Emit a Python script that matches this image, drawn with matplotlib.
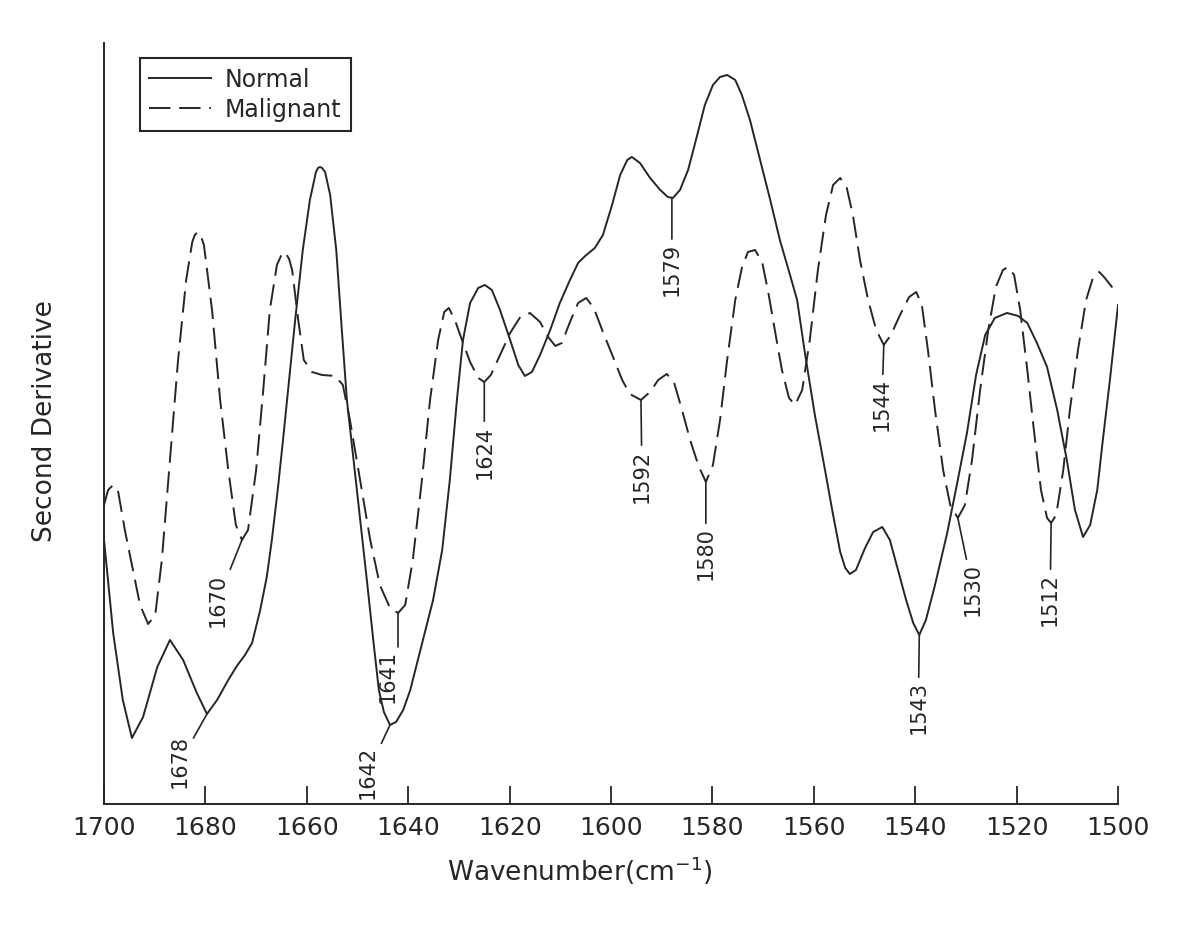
import matplotlib
matplotlib.use("Agg")
import matplotlib.pyplot as plt
import numpy as np

# second derivative spectra, wavenumber in cm-1, amplitude in arbitrary units
normal_wn = [1700.0, 1698.2, 1696.3, 1694.5, 1692.3, 1689.5, 1687.0, 1684.4, 1681.7, 1679.7,
             1677.7, 1675.5, 1673.8, 1672.2, 1670.8, 1669.2, 1667.9, 1666.9, 1665.7, 1664.7,
             1663.9, 1662.3, 1660.8, 1659.4, 1658.2, 1657.8, 1657.4, 1657.0, 1656.4, 1655.4,
             1654.2, 1653.1,
             1652.1, 1650.9, 1649.5, 1648.1, 1646.9, 1645.8, 1644.8, 1643.6, 1642.4, 1641.0,
             1639.6, 1637.1, 1635.1, 1633.3, 1631.8, 1630.4, 1629.2, 1627.8, 1626.2, 1624.9,
             1623.5, 1621.9, 1619.9, 1618.3, 1617.0, 1615.6, 1614.0, 1612.0, 1610.1, 1608.1,
             1606.5, 1605.1, 1603.2, 1601.6, 1599.8, 1598.2, 1596.8, 1595.9, 1594.3, 1592.3,
             1590.3, 1588.8, 1587.8, 1586.4, 1584.8, 1583.0, 1581.5, 1579.9, 1578.5, 1577.1,
             1575.5, 1574.2, 1572.6, 1570.6, 1568.6, 1566.7, 1564.7, 1563.3, 1561.7, 1559.8,
             1557.8, 1556.2, 1554.8, 1553.8, 1552.9, 1551.7, 1549.9, 1548.3, 1546.5, 1545.0,
             1543.4, 1541.8, 1540.4, 1539.2, 1537.9, 1536.1, 1533.7, 1531.8, 1529.8, 1528.0,
             1526.2, 1524.3, 1521.9, 1519.7, 1517.9, 1516.0, 1514.0, 1512.0, 1510.1, 1508.5,
             1506.9, 1505.5, 1504.1, 1503.0, 1501.6, 1500.0]
normal_val = [2.64, 1.71, 1.04, 0.66, 0.87, 1.37, 1.64, 1.44, 1.11, 0.90,
              1.04, 1.24, 1.38, 1.49, 1.61, 1.94, 2.27, 2.64, 3.16, 3.64,
              4.04, 4.84, 5.54, 6.04, 6.32, 6.36, 6.37, 6.36, 6.32, 6.09,
              5.54, 4.74,
              4.04, 3.49, 2.84, 2.21, 1.64, 1.14, 0.92, 0.79, 0.82, 0.94,
              1.14, 1.64, 2.04, 2.54, 3.24, 4.04, 4.64, 5.01, 5.16, 5.19,
              5.14, 4.94, 4.64, 4.39, 4.28, 4.32, 4.49, 4.74, 5.01, 5.24,
              5.41, 5.48, 5.56, 5.69, 5.99, 6.29, 6.44, 6.47, 6.41, 6.26,
              6.14, 6.07, 6.06, 6.14, 6.34, 6.69, 6.99, 7.19, 7.27, 7.29,
              7.24, 7.09, 6.84, 6.44, 6.04, 5.64, 5.29, 5.04, 4.49, 3.89,
              3.34, 2.89, 2.52, 2.36, 2.30, 2.34, 2.56, 2.72, 2.77, 2.64,
              2.34, 2.04, 1.81, 1.69, 1.84, 2.19, 2.71, 3.19, 3.71, 4.29,
              4.69, 4.86, 4.91, 4.88, 4.81, 4.61, 4.37, 3.94, 3.44, 2.94,
              2.67, 2.79, 3.14, 3.64, 4.24, 4.99]

malig_wn = [1700.0, 1699.2, 1698.2, 1697.2, 1695.9, 1694.3, 1692.9, 1691.3, 1689.9, 1688.6,
            1687.0, 1685.4, 1683.8, 1682.6, 1682.1, 1681.5, 1680.9, 1680.3, 1678.7, 1677.1,
            1675.5, 1674.0,
            1672.8, 1671.6, 1670.0, 1668.6, 1667.3, 1665.9, 1665.1, 1664.3, 1663.5, 1662.9,
            1661.7, 1660.6,
            1659.0, 1657.0, 1654.4, 1652.9, 1651.5, 1649.5, 1647.5, 1645.6, 1643.6, 1642.0,
            1640.6, 1639.1, 1637.3, 1635.7, 1634.1, 1632.9, 1632.0, 1630.8, 1629.4, 1627.8,
            1626.2, 1625.0, 1623.7, 1621.9, 1619.9, 1617.9, 1616.0, 1614.0, 1612.4, 1611.0,
            1609.7, 1608.1, 1606.5, 1604.9, 1603.4, 1601.6, 1599.6, 1597.8, 1596.3, 1594.1,
            1592.3, 1590.7, 1589.0, 1587.6, 1586.0, 1584.4, 1582.8, 1581.3, 1579.9, 1578.5,
            1577.1, 1575.5, 1574.2, 1573.0, 1571.6, 1570.2, 1569.0, 1567.7, 1566.3, 1564.9,
            1563.7, 1562.3, 1560.8, 1559.2, 1557.6, 1556.2, 1554.8, 1553.5, 1552.3, 1550.9,
            1549.3, 1547.7, 1546.2, 1544.8, 1543.0, 1541.2, 1539.8, 1538.7, 1537.5, 1536.1,
            1534.5, 1533.1, 1531.6, 1530.2, 1528.8, 1527.2, 1525.6, 1524.1, 1522.7, 1521.7,
            1520.5, 1519.3, 1517.9, 1516.6, 1515.2, 1514.0, 1513.2, 1512.2, 1510.8, 1509.5,
            1507.9, 1506.3, 1504.9, 1503.7, 1502.6, 1501.2, 1500.0]
malig_val = [2.99, 3.14, 3.19, 3.12, 2.74, 2.34, 1.99, 1.80, 1.89, 2.44,
             3.44, 4.44, 5.24, 5.62, 5.69, 5.72, 5.68, 5.59, 4.94, 4.04,
             3.34, 2.79,
             2.64, 2.74, 3.34, 4.14, 4.94, 5.39, 5.48, 5.52, 5.45, 5.34,
             4.84, 4.44,
             4.32, 4.29, 4.28, 4.19, 3.84, 3.24, 2.64, 2.19, 1.96, 1.91,
             1.99, 2.44, 3.24, 4.04, 4.64, 4.92, 4.96, 4.84, 4.64, 4.42,
             4.26, 4.22, 4.29, 4.49, 4.71, 4.87, 4.91, 4.82, 4.67, 4.58,
             4.61, 4.82, 5.01, 5.06, 4.96, 4.72, 4.47, 4.24, 4.10, 4.04,
             4.12, 4.24, 4.30, 4.22, 3.94, 3.64, 3.39, 3.22, 3.39, 3.84,
             4.44, 5.04, 5.36, 5.52, 5.54, 5.42, 5.12, 4.74, 4.34, 4.06,
             3.99, 4.14, 4.64, 5.34, 5.89, 6.19, 6.26, 6.16, 5.89, 5.44,
             5.04, 4.74, 4.59, 4.69, 4.89, 5.07, 5.12, 4.99, 4.54, 3.94,
             3.34, 2.99, 2.86, 2.99, 3.44, 4.14, 4.74, 5.17, 5.34, 5.37,
             5.29, 4.94, 4.34, 3.74, 3.14, 2.86, 2.81, 2.89, 3.34, 3.94,
             4.54, 5.04, 5.27, 5.32, 5.26, 5.17, 5.14]

# band assignments marked on the curves
band_text = ["1678", "1670", "1642", "1641", "1624", "1592", "1580", "1579", "1544", "1530", "1512", "1543"]
band_curve = ["Normal", "Malignant", "Normal", "Malignant", "Malignant", "Malignant",
              "Malignant", "Normal", "Malignant", "Malignant", "Malignant", "Normal"]
band_wn = [1679.7, 1672.8, 1643.6, 1642.0, 1625.0, 1594.1, 1581.3, 1588.0, 1546.2, 1531.6, 1513.2, 1539.2]
# label offsets from the band, pixels (dx right, dy down); elbow = stem then short horizontal leg
band_offset = [(-27, 48), (-24, 60), (-22, 47), (-10, 63), (0, 70), (1, 76),
               (0, 72), (0, 72), (-2, 60), (15, 72), (-1, 77), (-1, 73)]
band_elbow = [False, False, False, True, False, False, False, False, False, False, False, False]

ink = "#262626"
plt.rcParams["font.family"] = ["DejaVu Sans"]

fig = plt.figure(figsize=(12, 9.3), dpi=100)
ax = fig.add_axes([0.0867, 0.1355, 0.845, 0.8183])

curves = {"Normal": (np.array(normal_wn), np.array(normal_val)),
          "Malignant": (np.array(malig_wn), np.array(malig_val))}

ax.plot(normal_wn, normal_val, color=ink, lw=1.4, label="Normal")
ax.plot(malig_wn, malig_val, color=ink, lw=1.4, linestyle=(0, (11, 4.5)), label="Malignant")

for text, which, wn, (dx, dy), elbow in zip(band_text, band_curve, band_wn, band_offset, band_elbow):
    xs, ys = curves[which]
    y = np.interp(wn, xs[::-1], ys[::-1])
    arrow = dict(arrowstyle="-", color=ink, lw=1.2, shrinkA=1, shrinkB=0)
    if elbow:
        arrow.update(connectionstyle="angle,angleA=0,angleB=90,rad=0", relpos=(0.5, 1.0), shrinkA=0)
    ax.annotate(text, xy=(wn, y), xytext=(dx, -dy), textcoords="offset pixels",
                rotation=90, ha="center", va="center", fontsize=15, color=ink,
                arrowprops=arrow)

ax.set_xlim(1700, 1500)
ax.set_ylim(0, 7.61)
ax.set_xticks(np.arange(1700, 1499, -20))
ax.set_yticks([])
ax.tick_params(axis="x", direction="in", length=13, width=1.3, pad=9,
               labelsize=18, colors=ink)
for side in ["top", "right"]:
    ax.spines[side].set_visible(False)
for side in ["left", "bottom"]:
    ax.spines[side].set_color(ink)
    ax.spines[side].set_linewidth(1.4)

ax.set_xlabel(r"Wavenumber(cm$^{-1}$)", fontsize=19, color=ink)
ax.xaxis.set_label_coords(0.469, -0.067)
ax.set_ylabel("Second Derivative", fontsize=19, color=ink)
ax.yaxis.set_label_coords(-0.045, 0.503)

leg = ax.legend(loc="upper left", bbox_to_anchor=(0.0355, 0.98), borderaxespad=0,
                frameon=True, fancybox=False, framealpha=1, edgecolor=ink,
                fontsize=17, handlelength=2.6, handletextpad=0.6,
                borderpad=0.4, labelspacing=0.25)
leg.get_frame().set_linewidth(1.5)
for t in leg.get_texts():
    t.set_color(ink)

fig.savefig("out.png", dpi=100, facecolor="white")
